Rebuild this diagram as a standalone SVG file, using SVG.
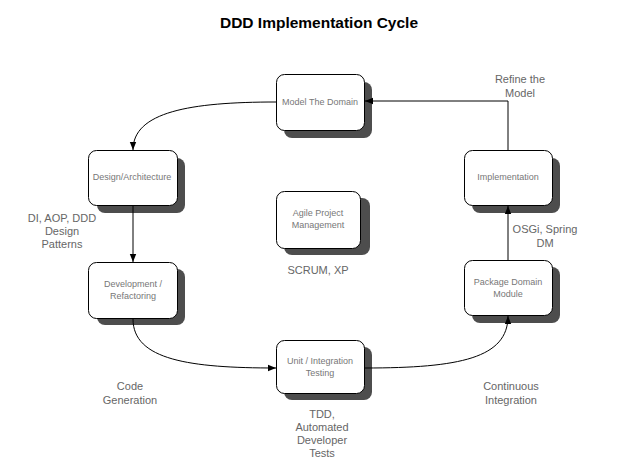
<svg xmlns="http://www.w3.org/2000/svg" width="640" height="459" viewBox="0 0 640 459">
<style>
.shadow{fill:#4d4d4d;}
.box{fill:#fff;stroke:#000;stroke-width:1;}
.bt{font-family:"Liberation Sans",Arial,sans-serif;font-size:9px;fill:#777;text-anchor:middle;}
.lbl{font-family:"Liberation Sans",Arial,sans-serif;font-size:11px;fill:#666;text-anchor:middle;}
.title{font-family:"Liberation Sans",Arial,sans-serif;font-size:15.5px;font-weight:bold;fill:#000;text-anchor:middle;}
.conn{fill:none;stroke:#000;stroke-width:1;}
</style>
<defs>
<marker id="arr" viewBox="0 0 10 10" refX="10" refY="5" markerWidth="8" markerHeight="8" orient="auto" markerUnits="userSpaceOnUse">
<path d="M0,1 L10,5 L0,9 Z" fill="#000"/>
</marker>
</defs>
<rect width="640" height="459" fill="#fff"/>
<text class="title" x="319" y="28">DDD Implementation Cycle</text>

<g id="model">
<rect class="shadow" x="284" y="82" width="88" height="56" rx="8"/>
<rect class="box" x="276.5" y="74.5" width="88" height="56" rx="8"/>
<text class="bt" x="320" y="105">Model The Domain</text>
</g>
<g id="design">
<rect class="shadow" x="97" y="158" width="88" height="55" rx="8"/>
<rect class="box" x="88.5" y="150.5" width="89" height="55" rx="8"/>
<text class="bt" x="132" y="180">Design/Architecture</text>
</g>
<g id="development">
<rect class="shadow" x="97" y="269" width="88" height="56" rx="8"/>
<rect class="box" x="88.5" y="262.5" width="89" height="56" rx="8"/>
<text class="bt" x="133" y="287">Development /</text>
<text class="bt" x="133" y="299">Refactoring</text>
</g>
<g id="unit">
<rect class="shadow" x="284" y="347" width="88" height="53" rx="8"/>
<rect class="box" x="276.5" y="340.5" width="88" height="53" rx="8"/>
<text class="bt" x="320" y="364">Unit / Integration</text>
<text class="bt" x="320" y="376">Testing</text>
</g>
<g id="package">
<rect class="shadow" x="472" y="267" width="88" height="56" rx="8"/>
<rect class="box" x="464.5" y="260.5" width="88" height="55" rx="8"/>
<text class="bt" x="508" y="285">Package Domain</text>
<text class="bt" x="508" y="297">Module</text>
</g>
<g id="implementation">
<rect class="shadow" x="472" y="158" width="88" height="55" rx="8"/>
<rect class="box" x="464.5" y="150.5" width="88" height="55" rx="8"/>
<text class="bt" x="508" y="180">Implementation</text>
</g>
<g id="agile">
<rect class="shadow" x="284" y="198" width="86" height="57" rx="8"/>
<rect class="box" x="276.5" y="191.5" width="84" height="57" rx="8"/>
<text class="bt" x="318" y="216">Agile Project</text>
<text class="bt" x="318" y="228">Management</text>
</g>

<g id="connectors">
<path class="conn" d="M276,102 C190,102 133,112 133,150" marker-end="url(#arr)"/>
<path class="conn" d="M133,206 L133,262" marker-end="url(#arr)"/>
<path class="conn" d="M133,319 C133,360 190,368 276,368" marker-end="url(#arr)"/>
<path class="conn" d="M365,368 C460,368 508,358 508,316" marker-end="url(#arr)"/>
<path class="conn" d="M508,260 L508,206" marker-end="url(#arr)"/>
<path class="conn" d="M508,150 L508,101 L365,101" marker-end="url(#arr)"/>
</g>

<g id="labels">
<text class="lbl" x="520" y="83">Refine the</text>
<text class="lbl" x="520" y="97">Model</text>
<text class="lbl" x="62" y="222">DI, AOP, DDD</text>
<text class="lbl" x="62" y="235">Design</text>
<text class="lbl" x="62" y="248">Patterns</text>
<text class="lbl" x="545" y="233">OSGi, Spring</text>
<text class="lbl" x="545" y="247">DM</text>
<text class="lbl" x="318" y="274">SCRUM, XP</text>
<text class="lbl" x="130" y="390">Code</text>
<text class="lbl" x="130" y="404">Generation</text>
<text class="lbl" x="322" y="418">TDD,</text>
<text class="lbl" x="322" y="431">Automated</text>
<text class="lbl" x="322" y="444">Developer</text>
<text class="lbl" x="322" y="457">Tests</text>
<text class="lbl" x="511" y="390">Continuous</text>
<text class="lbl" x="511" y="404">Integration</text>
</g>
</svg>
